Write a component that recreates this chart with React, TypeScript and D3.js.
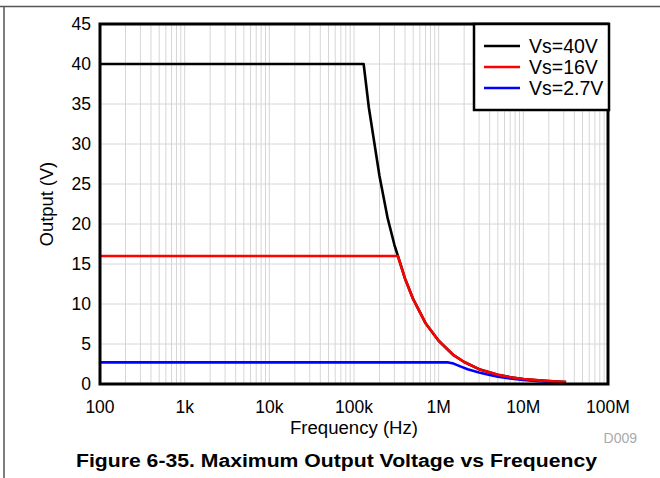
import React from "react";
import * as d3 from "d3";

const xTickValues = [1e2, 1e3, 1e4, 1e5, 1e6, 1e7, 1e8];
const xTickLabels = ["100", "1k", "10k", "100k", "1M", "10M", "100M"];
const yTickValues = [0, 5, 10, 15, 20, 25, 30, 35, 40, 45];

const seriesNames = ["Vs=40V", "Vs=16V", "Vs=2.7V"];
const seriesColors = ["#000000", "#ff0000", "#0000ff"];

const freq40 = [100, 130000, 150000, 200000, 250000, 300000, 330000, 400000, 500000, 700000, 1e6, 1.5e6, 2e6, 3e6, 5e6, 7e6, 1e7, 1.5e7, 2e7, 3.2e7];
const volt40 = [40, 40, 34.5, 26, 20.7, 17.4, 16, 13.2, 10.6, 7.6, 5.4, 3.6, 2.75, 1.85, 1.15, 0.85, 0.62, 0.45, 0.36, 0.25];

const freq16 = [100, 330000, 400000, 500000, 700000, 1e6, 1.5e6, 2e6, 3e6, 5e6, 7e6, 1e7, 1.5e7, 2e7, 3.2e7];
const volt16 = [16, 16, 13.2, 10.6, 7.6, 5.4, 3.6, 2.75, 1.85, 1.15, 0.85, 0.62, 0.45, 0.36, 0.25];

const freq27 = [100, 1.3e6, 1.5e6, 1.8e6, 2.2e6, 3e6, 4e6, 5e6, 7e6, 1e7, 1.5e7, 2.2e7];
const volt27 = [2.7, 2.7, 2.55, 2.2, 1.85, 1.45, 1.12, 0.92, 0.68, 0.5, 0.36, 0.27];

const W = 660;
const H = 478;
const M = { left: 100, right: 608, top: 24, bottom: 384 };

export default function App() {
  const x = d3.scaleLog().domain([1e2, 1e8]).range([M.left, M.right]);
  const y = d3.scaleLinear().domain([0, 45]).range([M.bottom, M.top]);

  const minor: number[] = [];
  for (let e = 2; e < 8; e++) {
    for (let k = 2; k <= 9; k++) minor.push(k * Math.pow(10, e));
  }

  const line = d3
    .line<[number, number]>()
    .x((d) => x(d[0]))
    .y((d) => y(d[1]));

  const toPts = (f: number[], v: number[]) => f.map((fi, i) => [fi, v[i]] as [number, number]);
  const series = [
    { pts: toPts(freq40, volt40), color: seriesColors[0] },
    { pts: toPts(freq27, volt27), color: seriesColors[2] },
    { pts: toPts(freq16, volt16), color: seriesColors[1] },
  ];

  const font = "Arial, 'Liberation Sans', Helvetica, sans-serif";

  return (
    <svg width={W} height={H} style={{ position: "absolute", left: 0, top: 0, fontFamily: font }}>
      <rect x={0} y={0} width={W} height={H} fill="#ffffff" />
      <line x1={0} x2={W} y1={6.5} y2={6.5} stroke="#555" strokeWidth={1.5} />
      <line x1={4} x2={4} y1={6} y2={H} stroke="#555" strokeWidth={1.5} />

      {/* grid */}
      {minor.map((v, i) => (
        <line key={"m" + i} x1={x(v)} x2={x(v)} y1={M.top} y2={M.bottom} stroke="#d6d6d6" strokeWidth={1} />
      ))}
      {xTickValues.map((v, i) => (
        <line key={"xg" + i} x1={x(v)} x2={x(v)} y1={M.top} y2={M.bottom} stroke="#d6d6d6" strokeWidth={1} />
      ))}
      {yTickValues.map((v, i) => (
        <line key={"yg" + i} x1={M.left} x2={M.right} y1={y(v)} y2={y(v)} stroke="#d6d6d6" strokeWidth={1} />
      ))}

      {/* curves */}
      {series.map((s, i) => (
        <path key={"s" + i} d={line(s.pts) || ""} fill="none" stroke={s.color} strokeWidth={2.6} strokeLinejoin="round" />
      ))}

      {/* frame */}
      <rect x={M.left} y={M.top} width={M.right - M.left} height={M.bottom - M.top} fill="none" stroke="#000" strokeWidth={3} />

      {/* y ticks */}
      {yTickValues.map((v, i) => (
        <text key={"yt" + i} x={91} y={y(v)} dy="0.36em" textAnchor="end" fontSize={17.5} fill="#000">
          {v}
        </text>
      ))}
      {/* x ticks */}
      {xTickValues.map((v, i) => (
        <text key={"xt" + i} x={x(v)} y={412.5} textAnchor="middle" fontSize={17.5} fill="#000">
          {xTickLabels[i]}
        </text>
      ))}

      <text x={(M.left + M.right) / 2} y={434} textAnchor="middle" fontSize={18} fill="#000" textLength={128} lengthAdjust="spacingAndGlyphs">
        Frequency (Hz)
      </text>
      <text transform={`translate(53,${(M.top + M.bottom) / 2}) rotate(-90)`} textAnchor="middle" fontSize={18.3} fill="#000">
        Output (V)
      </text>

      <text x={637} y={443} textAnchor="end" fontSize={14} fill="#aaaaaa">
        D009
      </text>

      <text x={76} y={467} fontSize={18} fontWeight="bold" fill="#000" textLength={521} lengthAdjust="spacingAndGlyphs">
        Figure 6-35. Maximum Output Voltage vs Frequency
      </text>

      {/* legend */}
      <rect x={474} y={24} width={135} height={86} fill="#fff" stroke="#000" strokeWidth={2.5} />
      {seriesNames.map((n, i) => (
        <g key={"lg" + i}>
          <line x1={484} x2={520} y1={46 + i * 21} y2={46 + i * 21} stroke={seriesColors[i]} strokeWidth={2.6} />
          <text x={529} y={46 + i * 21} dy="0.36em" fontSize={19.5} fill="#000">
            {n}
          </text>
        </g>
      ))}
    </svg>
  );
}
